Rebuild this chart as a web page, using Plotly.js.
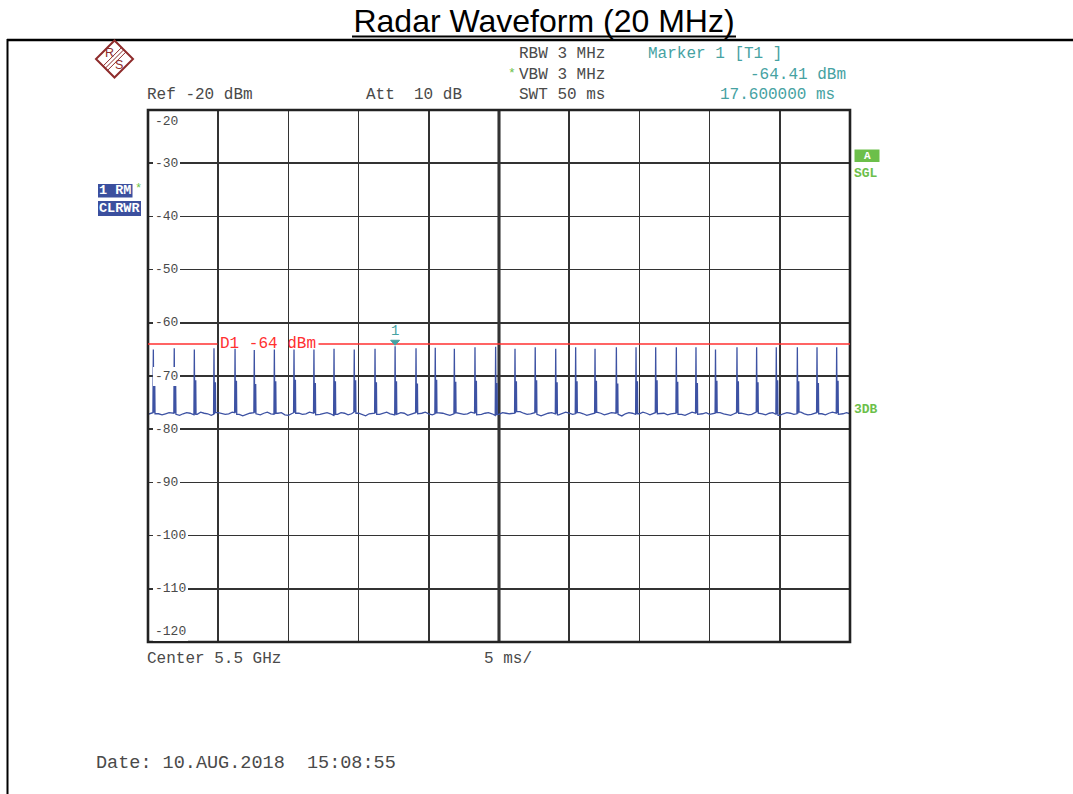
<!DOCTYPE html>
<html>
<head>
<meta charset="utf-8">
<script src="https://cdn.plot.ly/plotly-3.0.1.min.js"></script>
<style>
  html, body { margin: 0; padding: 0; background: #ffffff; }
  #chart { width: 1073px; height: 794px; }
</style>
</head>
<body>
<div id="chart"></div>
<script>
// ---------------- data ----------------
const chartTitle = 'Radar Waveform (20 MHz)';
const sweepMs = [0, 50];
const levelRangeDbm = [-120, -20];
const yTickValues = [-20, -30, -40, -50, -60, -70, -80, -90, -100, -110, -120];
const yTickLabels = ['-20', '-30', '-40', '-50', '-60', '-70', '-80', '-90', '-100', '-110', '-120'];

// pulse centres (ms) and their peak levels (dBm)
const pulseTimesMs = [0.38, 1.87, 3.30, 4.70, 6.20, 7.57, 9.00, 10.40, 11.82, 13.25,
  14.69, 16.17, 17.60, 19.09, 20.46, 21.82, 23.29, 24.76, 26.14, 27.58,
  29.04, 30.46, 31.84, 33.36, 34.76, 36.16, 37.63, 39.03, 40.42, 41.95,
  43.35, 44.75, 46.25, 47.65, 49.05];
const pulsePeakDbm = [-65.0, -64.8, -65.0, -64.8, -64.9, -65.1, -65.0, -65.0, -65.0, -64.9,
  -65.0, -64.9, -64.41, -64.8, -64.7, -64.9, -64.6, -64.5, -64.9, -64.6,
  -64.9, -64.6, -64.9, -64.6, -64.6, -64.6, -64.6, -64.6, -65.0, -64.6,
  -64.6, -64.6, -64.6, -64.6, -64.6];
const pulseShoulderDbm = [-71.0, -71.4, -70.8, -71.2, -70.9, -71.5, -71.0, -70.7, -71.3, -71.0,
  -70.8, -71.2, -71.0, -71.4, -70.7, -71.1, -70.9, -71.3, -71.0, -70.8,
  -71.2, -71.0, -70.9, -71.4, -71.0, -70.8, -71.1, -71.3, -70.9, -71.0,
  -71.2, -70.8, -71.0, -71.3, -70.9];

// noise floor, one reading per 0.25 ms across the sweep (dBm)
const floorStepMs = 0.25;
const floorDbm = [
  -77.2,-77.0,-76.9,-77.1,-77.3,-77.1,-76.9,-77.0,-77.2,-77.4,
  -77.1,-76.9,-77.0,-77.3,-77.2,-76.8,-77.0,-77.1,-77.4,-77.2,
  -76.9,-77.0,-77.2,-77.1,-76.8,-76.9,-77.2,-77.5,-77.2,-77.0,
  -76.9,-77.1,-77.3,-77.0,-76.8,-77.1,-77.2,-77.0,-76.9,-77.3,
  -77.4,-77.1,-76.9,-77.0,-77.2,-77.1,-76.8,-77.0,-77.3,-77.2,
  -77.0,-76.9,-77.1,-77.4,-77.2,-76.9,-77.0,-77.3,-77.1,-76.8,
  -77.0,-77.2,-77.5,-77.1,-76.9,-77.0,-77.2,-77.0,-76.8,-77.1,
  -77.3,-77.2,-76.9,-77.0,-77.4,-77.2,-76.9,-77.1,-77.0,-76.8,
  -77.1,-77.3,-77.1,-76.9,-77.0,-77.2,-77.4,-77.1,-76.9,-77.0,
  -77.2,-77.1,-76.8,-77.0,-77.3,-77.2,-77.0,-76.9,-77.1,-77.4,
  -77.2,-76.9,-77.0,-77.1,-77.3,-77.0,-76.7,-77.0,-77.2,-77.1,
  -76.9,-77.2,-77.5,-77.2,-77.0,-76.9,-77.1,-77.3,-77.1,-76.8,
  -77.0,-77.2,-77.1,-76.9,-77.1,-77.4,-77.2,-77.0,-76.8,-77.0,
  -77.3,-77.1,-76.9,-77.0,-77.2,-77.5,-77.1,-76.9,-77.0,-77.2,
  -77.1,-76.8,-77.0,-77.3,-77.2,-76.9,-77.1,-77.0,-77.3,-77.1,
  -76.9,-77.0,-77.2,-77.4,-77.1,-76.8,-77.0,-77.2,-77.1,-76.9,
  -77.2,-77.3,-77.0,-76.9,-77.1,-77.2,-77.4,-77.1,-76.9,-77.0,
  -77.1,-77.3,-77.2,-76.8,-77.0,-77.1,-77.3,-77.0,-76.9,-77.2,
  -77.4,-77.1,-76.9,-77.0,-77.2,-77.1,-76.8,-77.1,-77.3,-77.2,
  -77.0,-76.9,-77.1,-77.3,-77.0,-76.8,-77.0,-77.2,-77.1,-76.9,
  -77.1
];

// display line and marker
const displayLineDbm = -64;
const displayLineLabel = 'D1 -64 dBm';
const markerTimeMs = 17.6;
const markerDbm = -64.41;
const markerLabel = '1';

// instrument annotation texts
const headerLeft = ['Ref -20 dBm', 'Att  10 dB'];
const headerSettings = ['RBW 3 MHz', 'VBW 3 MHz', 'SWT 50 ms'];
const headerMarker = ['Marker 1 [T1 ]', '-64.41 dBm', '17.600000 ms'];
const footerTexts = ['Center 5.5 GHz', '5 ms/'];
const dateText = 'Date: 10.AUG.2018  15:08:55';
const traceBoxes = ['1 RM', 'CLRWR'];
const rightLabels = ['A', 'SGL', '3DB'];

// ---------------- build the trace ----------------
function nearestFloor(t) {
  let i = Math.round(t / floorStepMs);
  i = Math.max(0, Math.min(floorDbm.length - 1, i));
  return floorDbm[i];
}
const pts = [];
floorDbm.forEach((v, i) => {
  const t = i * floorStepMs;
  const nearPulse = pulseTimesMs.some(p => Math.abs(p - t) < 0.18);
  if (!nearPulse) pts.push([t, v]);
});
pulseTimesMs.forEach((t, k) => {
  const base = nearestFloor(t);
  pts.push([t - 0.03, base]);
  pts.push([t, pulsePeakDbm[k]]);
  pts.push([t + 0.03, base]);
  pts.push([t + 0.10, pulseShoulderDbm[k]]);
  pts.push([t + 0.12, nearestFloor(t + 0.25)]);
});
pts.sort((a, b) => a[0] - b[0]);
const traceX = pts.map(p => Math.min(sweepMs[1], Math.max(sweepMs[0], p[0])));
const traceY = pts.map(p => p[1]);

// ---------------- layout helpers ----------------
const W = 1073, H = 794, L = 148, R = 850, T = 110, B = 642;
const px = x => (x - L) / (R - L);
const py = y => (B - y) / (B - T);

const mono = '"Liberation Mono", "Courier New", monospace';
const grey = '#4a4a4a';
const teal = '#46a2a2';
const red = '#ff3030';
const green = '#6cbf4a';
const navy = '#3b4f9e';
const logoRed = '#8e2b2b';

function txt(x, y, text, color, size, extra) {
  return Object.assign({
    xref: 'paper', yref: 'paper', x: px(x), y: py(y), text: text,
    showarrow: false, xanchor: 'left', yanchor: 'middle',
    borderpad: 0, borderwidth: 0,
    font: { family: mono, size: size, color: color }
  }, extra || {});
}

const annotations = [];
// header
annotations.push(txt(147, 94.5, headerLeft[0], grey, 16));
annotations.push(txt(365.5, 94.5, headerLeft[1], grey, 16));
annotations.push(txt(518.5, 54.5, headerSettings[0], grey, 16));
annotations.push(txt(518.5, 74.5, headerSettings[1], grey, 16));
annotations.push(txt(518.5, 94.5, headerSettings[2], grey, 16));
annotations.push(txt(508, 73, '*', green, 13));
annotations.push(txt(647.5, 54.5, headerMarker[0], teal, 16));
annotations.push(txt(846, 74.5, headerMarker[1], teal, 16, { xanchor: 'right' }));
annotations.push(txt(835, 94.5, headerMarker[2], teal, 16, { xanchor: 'right' }));
// footer
annotations.push(txt(146.5, 658.5, footerTexts[0], grey, 16));
annotations.push(txt(483.5, 658.5, footerTexts[1], grey, 16));
annotations.push(txt(96, 763, dateText, grey, 18.5));
// left trace boxes
annotations.push(txt(98.8, 190.5, traceBoxes[0], '#ffffff', 13.5, { font: { family: mono, size: 13.5, color: '#ffffff', weight: 'bold' } }));
annotations.push(txt(98.8, 208.5, traceBoxes[1], '#ffffff', 13.5, { font: { family: mono, size: 13.5, color: '#ffffff', weight: 'bold' } }));
annotations.push(txt(135, 189, '*', green, 12));
// right labels
annotations.push(txt(867, 155.5, rightLabels[0], '#ffffff', 11, { xanchor: 'center', font: { family: mono, size: 11, color: '#ffffff', weight: 'bold' } }));
annotations.push(txt(854, 173.5, rightLabels[1], green, 13, { font: { family: mono, size: 13, color: green, weight: 'bold' } }));
annotations.push(txt(854, 409, rightLabels[2], green, 13, { font: { family: mono, size: 13, color: green, weight: 'bold' } }));
// y tick labels inside the plot, covering the grid line
yTickValues.forEach((v, i) => {
  const a = {
    xref: 'paper', yref: 'y', x: px(152.5), y: v, text: yTickLabels[i],
    showarrow: false, xanchor: 'left', yanchor: 'middle',
    bgcolor: '#ffffff', borderpad: 2, borderwidth: 0,
    font: { family: mono, size: 13, color: grey }
  };
  if (i === 0) { a.yref = 'paper'; a.y = py(121.5); }
  if (i === yTickValues.length - 1) { a.yref = 'paper'; a.y = py(631); }
  annotations.push(a);
});
// display line label
annotations.push({
  xref: 'paper', yref: 'y', x: px(218.5), y: displayLineDbm, text: displayLineLabel,
  showarrow: false, xanchor: 'left', yanchor: 'middle', borderpad: 0,
  font: { family: mono, size: 16, color: red }
});
// marker label
annotations.push({
  xref: 'x', yref: 'y', x: markerTimeMs, y: markerDbm, yshift: 15, text: markerLabel,
  showarrow: false, xanchor: 'center', yanchor: 'middle',
  font: { family: mono, size: 14, color: teal }
});
// logo letters
annotations.push({ xref: 'paper', yref: 'paper', x: px(109.3), y: py(52.5), text: 'R', showarrow: false,
  xanchor: 'center', yanchor: 'middle', font: { family: '"Liberation Sans", Arial, sans-serif', size: 12.5, color: logoRed } });
annotations.push({ xref: 'paper', yref: 'paper', x: px(119.3), y: py(65.3), text: 'S', showarrow: false,
  xanchor: 'center', yanchor: 'middle', font: { family: '"Liberation Sans", Arial, sans-serif', size: 12.5, color: logoRed } });

const shapes = [];
// outer page frame
shapes.push({ type: 'line', xref: 'paper', yref: 'paper', x0: px(7), x1: px(1080), y0: py(40), y1: py(40), line: { color: '#000000', width: 2.6 }, layer: 'above' });
shapes.push({ type: 'line', xref: 'paper', yref: 'paper', x0: px(7.5), x1: px(7.5), y0: py(39), y1: py(800), line: { color: '#000000', width: 2 }, layer: 'above' });
// title underline
shapes.push({ type: 'line', xref: 'paper', yref: 'paper', x0: px(352), x1: px(736), y0: py(36.5), y1: py(36.5), line: { color: '#000000', width: 2 }, layer: 'above' });
// plot frame and centre line
shapes.push({ type: 'rect', xref: 'paper', yref: 'paper', x0: 0, x1: 1, y0: 0, y1: 1, line: { color: '#222222', width: 2.6 }, layer: 'above' });
shapes.push({ type: 'line', xref: 'x', yref: 'paper', x0: 25, x1: 25, y0: 0, y1: 1, line: { color: '#222222', width: 3 }, layer: 'below' });
// display line D1 (interrupted by its label)
shapes.push({ type: 'line', xref: 'paper', yref: 'y', x0: 0, x1: px(217.5), y0: displayLineDbm, y1: displayLineDbm, line: { color: red, width: 1.5 }, layer: 'above' });
shapes.push({ type: 'line', xref: 'paper', yref: 'y', x0: px(318.5), x1: 1, y0: displayLineDbm, y1: displayLineDbm, line: { color: red, width: 1.5 }, layer: 'above' });
// marker triangle (pixel sized, anchored at the marker point)
shapes.push({ type: 'path', xref: 'x', yref: 'y', xsizemode: 'pixel', ysizemode: 'pixel',
  xanchor: markerTimeMs, yanchor: markerDbm, path: 'M-4.5,6 L4.5,6 L0,1 Z',
  fillcolor: teal, line: { color: teal, width: 1 }, layer: 'above' });
// trace boxes
shapes.push({ type: 'rect', xref: 'paper', yref: 'paper', x0: px(98), x1: px(132.5), y0: py(184), y1: py(197.5), fillcolor: navy, line: { width: 0 }, layer: 'above' });
shapes.push({ type: 'rect', xref: 'paper', yref: 'paper', x0: px(98), x1: px(141), y0: py(201), y1: py(216), fillcolor: navy, line: { width: 0 }, layer: 'above' });
shapes.push({ type: 'rect', xref: 'paper', yref: 'paper', x0: px(854.5), x1: px(879.5), y0: py(149.5), y1: py(162), fillcolor: green, line: { width: 0 }, layer: 'above' });
// R&S logo diamond and band
shapes.push({ type: 'path', xref: 'paper', yref: 'paper',
  path: `M${px(114.5)},${py(40.5)} L${px(133)},${py(59)} L${px(114.5)},${py(77.5)} L${px(96)},${py(59)} Z`,
  line: { color: logoRed, width: 2 }, fillcolor: 'rgba(0,0,0,0)', layer: 'above' });
[-2.2, 0, 2.2].forEach(d => {
  shapes.push({ type: 'line', xref: 'paper', yref: 'paper',
    x0: px(123.75 + d), y0: py(49.75 + d), x1: px(105.25 + d), y1: py(68.25 + d),
    line: { color: logoRed, width: 1 }, layer: 'above' });
});

const trace = {
  type: 'scatter', mode: 'lines', x: traceX, y: traceY,
  line: { color: '#3d52a3', width: 1.3 }, hoverinfo: 'skip', showlegend: false
};

const layout = {
  width: W, height: H,
  margin: { l: L, r: W - R, t: T, b: H - B, pad: 0 },
  paper_bgcolor: '#ffffff', plot_bgcolor: '#ffffff',
  showlegend: false,
  title: {
    text: chartTitle, xref: 'container', yref: 'container',
    x: 544 / W, y: 1 - 21 / H, xanchor: 'center', yanchor: 'middle',
    font: { family: '"Liberation Sans", Arial, sans-serif', size: 32, color: '#000000' }
  },
  xaxis: {
    range: sweepMs, dtick: 5, tick0: 0, showgrid: true, gridcolor: '#333333', gridwidth: 1.5,
    showticklabels: false, ticks: '', zeroline: false, showline: false, fixedrange: true
  },
  yaxis: {
    range: levelRangeDbm, dtick: 10, tick0: -120, showgrid: true, gridcolor: '#333333', gridwidth: 1.5,
    showticklabels: false, ticks: '', zeroline: false, showline: false, fixedrange: true
  },
  annotations: annotations,
  shapes: shapes
};

Plotly.newPlot('chart', [trace], layout, { displayModeBar: false, staticPlot: true });
</script>
</body>
</html>
